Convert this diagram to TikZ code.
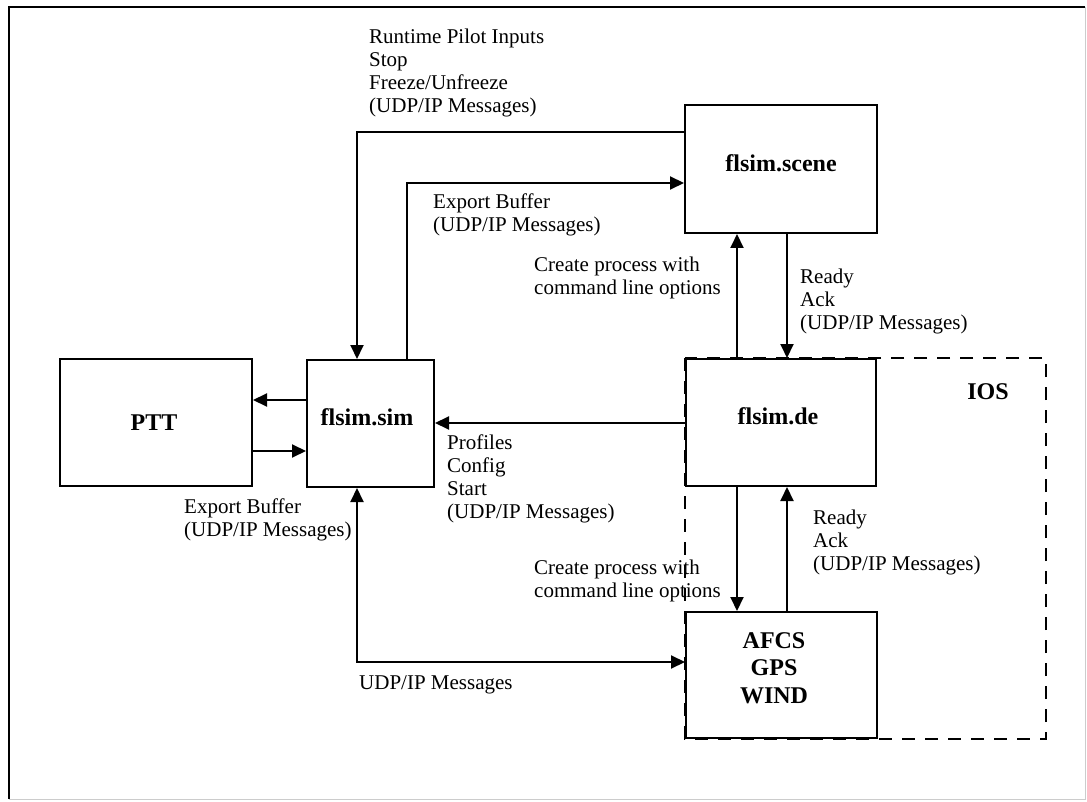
\documentclass[tikz,border=0pt]{standalone}
\usepackage{fontspec}
\setmainfont{Liberation Serif}
\usetikzlibrary{arrows.meta}
\begin{document}
\begin{tikzpicture}[x=1pt,y=-1pt,
  box/.style={draw, line width=2pt, inner sep=0pt},
  boxlbl/.style={font=\fontsize{24}{27.5}\selectfont\bfseries, align=center, inner sep=0pt},
  lbl/.style={font=\fontsize{21}{23}\selectfont, align=left, anchor=base west, inner sep=0pt},
  conn/.style={line width=2pt},
  arr/.style={conn, -{Triangle[length=14pt,width=13pt]}},
  darr/.style={conn, {Triangle[length=14pt,width=13pt]}-{Triangle[length=14pt,width=13pt]}},
  iosline/.style={line width=2pt, dash pattern=on 13pt off 10pt}]
\useasboundingbox (0,0) rectangle (1087,802);
% outer frame
\draw[line width=2pt] (9,799) -- (9,7) -- (1085,7);
\draw[black!20, line width=1pt] (1085,7) -- (1085,799) -- (9,799);

% boxes
\node[box, minimum width=192pt, minimum height=127pt] (ptt) at (156,422.5) {};
\node[box, minimum width=127pt, minimum height=127pt] (sim) at (370.5,423.5) {};
\node[box, minimum width=192pt, minimum height=128pt] (scene) at (781,169) {};
\node[box, minimum width=190pt, minimum height=127pt] (de) at (781,422.5) {};
\node[box, minimum width=191pt, minimum height=126pt] (afcs) at (781.5,675) {};

% IOS region
\draw[iosline] (de.north west) rectangle (1046,0 |- afcs.south);

% box texts
\node[boxlbl] (pttT) at (154,423) {PTT};
\node[boxlbl] (simT) at (367,417) {flsim.sim};
\node[boxlbl] (sceneT) at (781,163) {flsim.scene};
\node[boxlbl] (deT) at (778,416) {flsim.de};
\node[boxlbl] (afcsT) at (774,668) {AFCS\\GPS\\WIND};
\node[boxlbl] (iosT) at (988,392) {IOS};

% connectors
\draw[arr] (sim.west |- 0,400) -- (ptt.east |- 0,400);
\draw[arr] (ptt.east |- 0,451) -- (sim.west |- 0,451);
\draw[arr] (scene.west |- 0,132) -| (357,0 |- sim.north);
\draw[arr] (407,0 |- sim.north) |- (scene.west |- 0,183);
\draw[arr] (de.west |- 0,423) -- (sim.east |- 0,423);
\draw[arr] (737,0 |- de.north) -- (737,0 |- scene.south);
\draw[arr] (787,0 |- scene.south) -- (787,0 |- de.north);
\draw[arr] (737,0 |- de.south) -- (737,0 |- afcs.north);
\draw[arr] (787,0 |- afcs.north) -- (787,0 |- de.south);
\draw[darr] (357,0 |- sim.south) |- (afcs.west |- 0,662);

% labels (anchor = baseline of last line)
\node[lbl] (l1) at (369,113) {Runtime Pilot Inputs\\Stop\\Freeze/Unfreeze\\(UDP/IP Messages)};
\node[lbl] (l2) at (433,232) {Export Buffer\\(UDP/IP Messages)};
\node[lbl] (l3) at (534,295) {Create process with\\command line options};
\node[lbl] (l4) at (800,330) {Ready\\Ack\\(UDP/IP Messages)};
\node[lbl] (l5) at (447,518) {Profiles\\Config\\Start\\(UDP/IP Messages)};
\node[lbl] (l6) at (184,536) {Export Buffer\\(UDP/IP Messages)};
\node[lbl] (l7) at (534,597) {Create process with\\command line options};
\node[lbl] (l8) at (813,570) {Ready\\Ack\\(UDP/IP Messages)};
\node[lbl] (l9) at (359,689) {UDP/IP Messages};
\end{tikzpicture}
\end{document}
